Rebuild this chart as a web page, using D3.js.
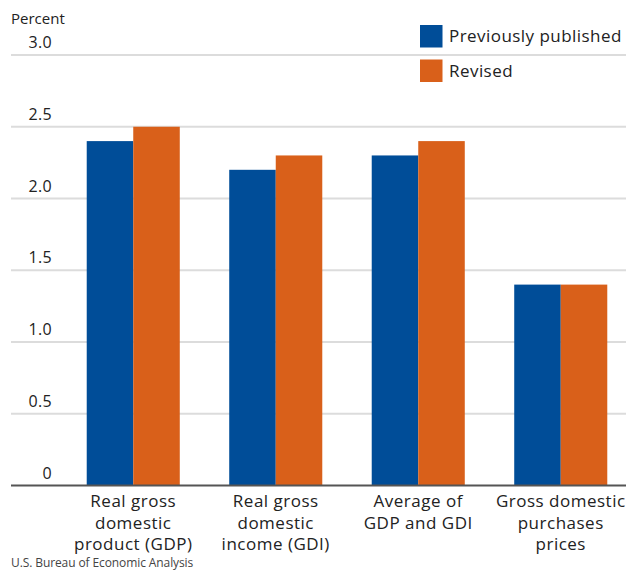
<!DOCTYPE html>
<html>
<head>
<meta charset="utf-8">
<script src="https://cdn.jsdelivr.net/npm/d3@7"></script>
<style>
  body { margin: 0; background: #fff; }
  svg { display: block; font-family: "Open Sans", "Noto Sans", sans-serif; }
</style>
</head>
<body>
<svg id="chart" width="626" height="571"></svg>
<script>
// Categories, two series and axis ticks
const categories = [
  ["Real gross", "domestic", "product (GDP)"],
  ["Real gross", "domestic", "income (GDI)"],
  ["Average of", "GDP and GDI"],
  ["Gross domestic", "purchases", "prices"]
];
const previouslyPublished = [2.4, 2.2, 2.3, 1.4];
const revised = [2.5, 2.3, 2.4, 1.4];
const seriesNames = ["Previously published", "Revised"];
const seriesColors = ["#004d98", "#d9601a"];
const yTicks = [0, 0.5, 1.0, 1.5, 2.0, 2.5, 3.0];
const yTickLabels = ["0", "0.5", "1.0", "1.5", "2.0", "2.5", "3.0"];

const svg = d3.select("#chart");
const gridLeft = 11, gridRight = 626;

const y = d3.scaleLinear().domain([0, 3]).range([485.5, 55]);
const x0 = d3.scaleBand().domain(d3.range(categories.length))
  .range([62, 632]).paddingInner(0.347).paddingOuter(0.1735);
const x1 = d3.scaleBand().domain([0, 1]).range([0, x0.bandwidth()]);

// Gridlines
svg.append("g").selectAll("line")
  .data(yTicks.filter(d => d > 0))
  .join("line")
  .attr("x1", gridLeft).attr("x2", gridRight)
  .attr("y1", d => y(d)).attr("y2", d => y(d))
  .attr("stroke", "#dcdcdc").attr("stroke-width", 2);

// Tick labels
svg.append("g").selectAll("text")
  .data(yTicks)
  .join("text")
  .attr("x", 52).attr("y", d => y(d) - 7)
  .attr("text-anchor", "end")
  .attr("font-size", 16).attr("letter-spacing", 0.3).attr("fill", "#222")
  .text((d, i) => yTickLabels[i]);

svg.append("text").attr("x", 11).attr("y", 24)
  .attr("font-size", 15).attr("fill", "#222")
  .text("Percent");

// Bars
const series = [previouslyPublished, revised];
const groups = svg.append("g").selectAll("g")
  .data(categories.map((c, i) => i))
  .join("g")
  .attr("transform", i => `translate(${x0(i)},0)`);
groups.selectAll("rect")
  .data(i => series.map((s, k) => ({ k, v: s[i] })))
  .join("rect")
  .attr("x", d => x1(d.k))
  .attr("width", x1.bandwidth())
  .attr("y", d => y(d.v))
  .attr("height", d => y(0) - y(d.v))
  .attr("fill", d => seriesColors[d.k]);

// Baseline
svg.append("line")
  .attr("x1", gridLeft).attr("x2", gridRight)
  .attr("y1", y(0)).attr("y2", y(0))
  .attr("stroke", "#555").attr("stroke-width", 2);

// Category labels
const catLabels = svg.append("g").selectAll("text")
  .data(categories)
  .join("text")
  .attr("x", (d, i) => x0(i) + x0.bandwidth() / 2)
  .attr("text-anchor", "middle")
  .attr("font-size", 17).attr("letter-spacing", 0.5).attr("fill", "#222");
catLabels.selectAll("tspan")
  .data(d => d)
  .join("tspan")
  .attr("x", function () { return d3.select(this.parentNode).attr("x"); })
  .attr("y", (d, j) => 507 + j * 21.5)
  .text(d => d);

// Legend
const legend = svg.append("g");
seriesNames.forEach((name, k) => {
  legend.append("rect")
    .attr("x", 420).attr("y", 25 + k * 34.5)
    .attr("width", 22.5).attr("height", 22.5)
    .attr("fill", seriesColors[k]);
  legend.append("text")
    .attr("x", 449).attr("y", 42 + k * 34.5)
    .attr("font-size", 17).attr("letter-spacing", 0.45).attr("fill", "#222")
    .text(name);
});

// Source
svg.append("text").attr("x", 11).attr("y", 566.5)
  .attr("font-size", 12).attr("fill", "#444").attr("letter-spacing", -0.1)
  .text("U.S. Bureau of Economic Analysis");
</script>
</body>
</html>
